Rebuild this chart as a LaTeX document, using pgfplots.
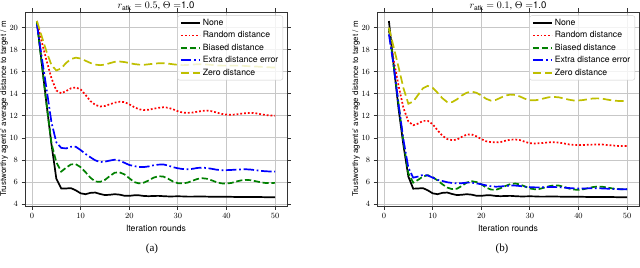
\documentclass[border=0pt]{standalone}
\usepackage{pgfplots}
\pgfplotsset{compat=1.18}
\usepackage{pgfplotstable}
\usepackage{fontspec}
\setmainfont{TeX Gyre Heros}
\newfontfamily\capfont{Liberation Serif}

\definecolor{mplgreen}{rgb}{0,0.5,0}
\definecolor{mplyellow}{rgb}{0.75,0.75,0}

\pgfplotstableread{
x none rand bias extra zero
1 20.6 20.6 20.5 20.3 20.6
2 16.8 18.7 16.7 17.3 19.2
3 13.0 17.0 13.0 14.4 17.8
4 9.4 15.4 9.5 11.4 16.6
5 6.3 14.3 7.8 9.6 16.12
6 5.42 14.05 6.95 9.1 16.3
7 5.42 14.25 7.3 9.05 16.8
8 5.45 14.5 7.6 9.2 17.15
9 5.25 14.58 7.62 9.2 17.28
10 4.98 14.4 7.35 8.9 17.2
11 4.9 13.9 6.9 8.55 17.0
12 5.02 13.35 6.4 8.25 16.8
13 5.05 13.0 6.05 7.97 16.65
14 4.92 12.85 6.02 7.82 16.6
15 4.82 12.9 6.2 7.85 16.65
16 4.85 13.05 6.55 7.95 16.78
17 4.9 13.2 6.85 8.03 16.9
18 4.86 13.28 6.88 7.95 16.93
19 4.76 13.25 6.7 7.75 16.88
20 4.75 13.05 6.35 7.55 16.8
21 4.8 12.8 6.0 7.45 16.7
22 4.8 12.6 5.88 7.37 16.65
23 4.74 12.53 5.95 7.36 16.63
24 4.72 12.56 6.15 7.42 16.68
25 4.74 12.65 6.4 7.52 16.73
26 4.75 12.73 6.53 7.58 16.77
27 4.72 12.78 6.5 7.6 16.78
28 4.7 12.74 6.3 7.5 16.74
29 4.7 12.6 6.05 7.35 16.68
30 4.71 12.42 5.9 7.25 16.63
31 4.7 12.3 5.88 7.18 16.6
32 4.68 12.27 5.95 7.16 16.62
33 4.68 12.3 6.12 7.2 16.66
34 4.69 12.38 6.28 7.28 16.68
35 4.69 12.45 6.35 7.31 16.68
36 4.68 12.48 6.3 7.27 16.66
37 4.67 12.42 6.15 7.2 16.62
38 4.67 12.3 5.98 7.12 16.58
39 4.67 12.18 5.88 7.08 16.56
40 4.66 12.12 5.87 7.08 16.56
41 4.66 12.1 5.92 7.1 16.56
42 4.65 12.13 6.05 7.13 16.56
43 4.65 12.2 6.15 7.15 16.55
44 4.65 12.25 6.2 7.16 16.52
45 4.64 12.27 6.17 7.13 16.5
46 4.64 12.24 6.08 7.08 16.48
47 4.64 12.16 5.98 7.02 16.45
48 4.63 12.08 5.92 6.98 16.43
49 4.63 12.04 5.9 6.96 16.4
50 4.63 12.02 5.93 6.95 16.38
}\dataA

\pgfplotstableread{
x none rand bias extra zero
1 20.6 19.7 19.9 19.4 20.0
2 16.5 17.0 16.5 16.5 18.2
3 12.6 14.7 13.0 13.0 16.4
4 9.3 12.7 9.6 9.8 14.5
5 6.5 11.5 6.8 7.3 13.1
6 5.4 11.15 5.95 6.4 13.3
7 5.42 11.3 6.2 6.5 13.9
8 5.45 11.55 6.5 6.65 14.5
9 5.25 11.55 6.62 6.6 14.72
10 4.98 11.25 6.45 6.4 14.55
11 4.9 10.7 6.15 6.2 14.1
12 5.02 10.2 5.8 6.1 13.6
13 5.05 9.9 5.5 5.98 13.25
14 4.92 9.8 5.36 5.92 13.25
15 4.82 9.85 5.4 5.88 13.5
16 4.85 10.1 5.65 5.9 13.85
17 4.9 10.3 5.95 5.95 14.1
18 4.86 10.32 6.08 5.95 14.2
19 4.76 10.15 6.0 5.88 14.1
20 4.75 9.9 5.8 5.8 13.85
21 4.8 9.7 5.5 5.7 13.55
22 4.8 9.62 5.32 5.62 13.38
23 4.74 9.6 5.3 5.58 13.45
24 4.72 9.63 5.45 5.6 13.65
25 4.74 9.75 5.65 5.65 13.85
26 4.75 9.84 5.82 5.68 13.93
27 4.72 9.86 5.87 5.68 13.9
28 4.7 9.8 5.78 5.64 13.75
29 4.7 9.65 5.6 5.58 13.55
30 4.71 9.52 5.42 5.54 13.42
31 4.7 9.5 5.35 5.52 13.41
32 4.68 9.52 5.38 5.52 13.48
33 4.68 9.56 5.5 5.53 13.6
34 4.69 9.6 5.63 5.55 13.7
35 4.69 9.62 5.7 5.55 13.72
36 4.68 9.58 5.68 5.53 13.68
37 4.67 9.5 5.57 5.5 13.58
38 4.67 9.42 5.42 5.46 13.47
39 4.67 9.37 5.32 5.43 13.4
40 4.66 9.35 5.3 5.42 13.4
41 4.66 9.36 5.35 5.42 13.44
42 4.65 9.38 5.45 5.43 13.52
43 4.65 9.4 5.55 5.44 13.58
44 4.65 9.41 5.6 5.44 13.59
45 4.64 9.4 5.57 5.42 13.55
46 4.64 9.36 5.5 5.4 13.47
47 4.64 9.32 5.42 5.38 13.4
48 4.63 9.28 5.37 5.36 13.36
49 4.63 9.27 5.35 5.35 13.35
50 4.63 9.26 5.35 5.35 13.35
}\dataB

\pgfplotsset{
  mystyle/.style={
    scale only axis, width=262bp, height=194bp,
    xmin=-1.45, xmax=52.45, ymin=3.83, ymax=21.42,
    xtick={0,10,...,50}, ytick={4,6,...,20},
    tick align=outside, major tick length=3.5bp,
    tick style={black!80, line width=0.8bp},
    axis line style={black!80, line width=0.8bp},
    grid=major, grid style={black!22, line width=1bp},
    ticklabel style={font=\fontsize{8}{9}\selectfont},
    xlabel style={font=\fontsize{8.7}{10}\selectfont},
    every axis title/.style={at={(axis description cs:0.5,1)}, anchor=base,
      yshift=3.2bp, inner sep=0pt, font=\fontsize{9.6}{10}\selectfont},
    every axis y label/.style={at={(axis description cs:-0.0802,0.5)},
      rotate=90, anchor=center, inner sep=0pt, font=\fontsize{8}{9}\selectfont},
    xlabel={Iteration rounds},
    ylabel={Trustworthy agents' average distance to target / m},
    legend cell align=left,
    legend image code/.code={\draw[##1] (0bp,0bp) -- (19bp,0bp);},
    legend style={at={(1,1)}, anchor=north east, xshift=-4bp, yshift=-3.5bp,
      font=\fontsize{8.7}{10}\selectfont, draw=black!20, rounded corners=2bp,
      fill=white, fill opacity=0.8, text opacity=1,
      inner xsep=2.5bp, inner ysep=1.5bp, row sep=0.6bp},
    every axis plot/.append style={line width=1.7bp, line cap=butt},
  },
  sNone/.style={black},
  sRand/.style={red, dash pattern=on 1.8bp off 2.0bp},
  sBias/.style={mplgreen, dash pattern=on 6.2bp off 2.7bp},
  sExtra/.style={blue, dash pattern=on 10.5bp off 2.7bp on 1.7bp off 2.7bp},
  sZero/.style={mplyellow, dash pattern=on 8.5bp off 3.8bp},
}

\begin{document}
\begin{tikzpicture}[x=1bp,y=1bp]
\begin{axis}[mystyle, at={(25bp,62bp)}, anchor=south west,
  title={$r_{\mathrm{atk}}=0.5$, $\Theta=$1.0}]
\addplot[sNone] table[x=x,y=none]{\dataA}; \addlegendentry{None}
\addplot[sRand] table[x=x,y=rand]{\dataA}; \addlegendentry{Random distance}
\addplot[sBias] table[x=x,y=bias]{\dataA}; \addlegendentry{Biased distance}
\addplot[sExtra] table[x=x,y=extra]{\dataA}; \addlegendentry{Extra distance error}
\addplot[sZero] table[x=x,y=zero]{\dataA}; \addlegendentry{Zero distance}
\end{axis}
\begin{axis}[mystyle, at={(377bp,62bp)}, anchor=south west,
  title={$r_{\mathrm{atk}}=0.1$, $\Theta=$1.0}]
\addplot[sNone] table[x=x,y=none]{\dataB}; \addlegendentry{None}
\addplot[sRand] table[x=x,y=rand]{\dataB}; \addlegendentry{Random distance}
\addplot[sBias] table[x=x,y=bias]{\dataB}; \addlegendentry{Biased distance}
\addplot[sExtra] table[x=x,y=extra]{\dataB}; \addlegendentry{Extra distance error}
\addplot[sZero] table[x=x,y=zero]{\dataB}; \addlegendentry{Zero distance}
\end{axis}
\node at (152bp,19bp) {\capfont\fontsize{11}{12}\selectfont (a)};
\node at (502bp,19bp) {\capfont\fontsize{11}{12}\selectfont (b)};
\pgfresetboundingbox
\path[use as bounding box] (0bp,0bp) rectangle (640bp,268bp);
\end{tikzpicture}
\end{document}
